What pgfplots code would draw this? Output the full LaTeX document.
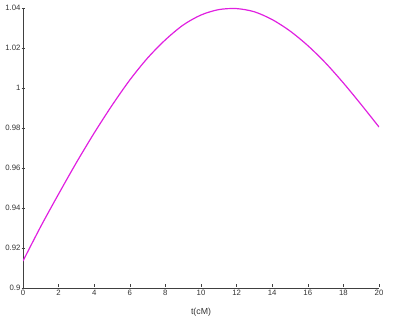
\documentclass[border=0pt]{standalone}
\usepackage{pgfplots}
\pgfplotsset{compat=1.18}
\usepackage{fontspec}
\setmainfont{Liberation Sans}
\begin{document}
\begin{tikzpicture}
\path[use as bounding box] (-23bp,-33bp) rectangle (372bp,288bp);
\begin{axis}[
  at={(0,0)}, anchor=south west,
  scale only axis, width=356bp, height=280bp,
  xmin=0, xmax=20, ymin=0.9, ymax=1.04,
  axis x line*=bottom, axis y line*=left,
  axis line style={black!75, line width=0.8pt},
  xtick={0,2,...,20},
  ytick={0.9,0.92,0.94,0.96,0.98,1,1.02,1.04},
  yticklabels={0.9,0.92,0.94,0.96,0.98,1,1.02,1.04},
  x tick style={black!75, line width=0.6pt, yshift=0.5*\pgfkeysvalueof{/pgfplots/major tick length}},
  y tick style={black!75, line width=0.6pt, xshift=-0.5*\pgfkeysvalueof{/pgfplots/major tick length}},
  major tick length=3bp,
  tick label style={font=\fontsize{7.8}{8}\selectfont, text=black!80},
  /pgf/number format/assume math mode=true,
  xticklabel style={yshift=1bp},
  yticklabel style={xshift=1bp},
  xlabel={t(cM)},
  xlabel style={font=\fontsize{8.8}{9}\selectfont, text=black!80, yshift=-5bp},
]
\addplot[color={rgb,255:red,224;green,32;blue,224}, line width=1.2pt, smooth] coordinates {
(0,0.9135) (1,0.9308) (2,0.9470) (3,0.9627) (4,0.9775) (5,0.9913) (6,1.0040)
(7,1.0150) (8,1.0241) (9,1.0315) (10,1.0365) (11,1.0392) (12,1.0397) (13,1.0381)
(14,1.0342) (15,1.0285) (16,1.0212) (17,1.0125) (18,1.0025) (19,0.9917) (20,0.9805)
};
\end{axis}
\end{tikzpicture}
\end{document}
